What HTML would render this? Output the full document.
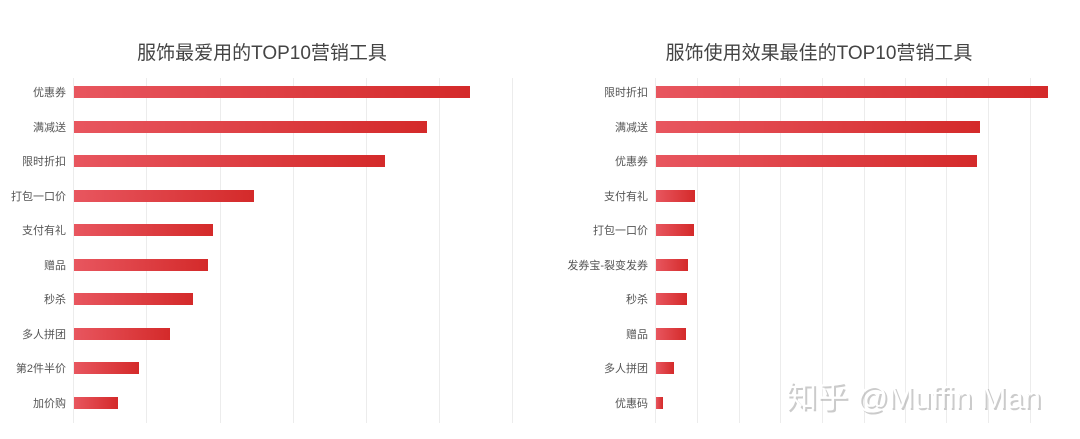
<!DOCTYPE html>
<html><head><meta charset="utf-8"><style>
body{margin:0;background:#fff;}
svg{display:block;font-family:"Liberation Sans","Noto Sans CJK SC",sans-serif;}
</style></head><body>
<svg width="1080" height="439" viewBox="0 0 1080 439">
<defs>
<linearGradient id="g" x1="0" x2="1" y1="0" y2="0">
<stop offset="0" stop-color="#e8565f"/><stop offset="1" stop-color="#d42a2a"/>
</linearGradient>
</defs>
<rect width="1080" height="439" fill="#fff"/>
<g stroke="#ececec" stroke-width="1">
<line x1="73.5" y1="78" x2="73.5" y2="423"/><line x1="146.5" y1="78" x2="146.5" y2="423"/><line x1="220.5" y1="78" x2="220.5" y2="423"/><line x1="293.5" y1="78" x2="293.5" y2="423"/><line x1="366.5" y1="78" x2="366.5" y2="423"/><line x1="439.5" y1="78" x2="439.5" y2="423"/><line x1="512.5" y1="78" x2="512.5" y2="423"/>
<line x1="655.5" y1="78" x2="655.5" y2="423"/><line x1="697.5" y1="78" x2="697.5" y2="423"/><line x1="739.5" y1="78" x2="739.5" y2="423"/><line x1="780.5" y1="78" x2="780.5" y2="423"/><line x1="822.5" y1="78" x2="822.5" y2="423"/><line x1="864.5" y1="78" x2="864.5" y2="423"/><line x1="905.5" y1="78" x2="905.5" y2="423"/><line x1="946.5" y1="78" x2="946.5" y2="423"/><line x1="988.5" y1="78" x2="988.5" y2="423"/><line x1="1030.5" y1="78" x2="1030.5" y2="423"/>
</g>
<text x="262" y="59" font-size="19" fill="#444" text-anchor="middle">服饰最爱用的TOP10营销工具</text>
<text x="819" y="59" font-size="19" fill="#444" text-anchor="middle">服饰使用效果最佳的TOP10营销工具</text>
<g fill="url(#g)">
<rect x="74" y="86" width="396" height="12"/>
<rect x="74" y="121" width="353" height="12"/>
<rect x="74" y="155" width="311" height="12"/>
<rect x="74" y="190" width="180" height="12"/>
<rect x="74" y="224" width="139" height="12"/>
<rect x="74" y="259" width="134" height="12"/>
<rect x="74" y="293" width="119" height="12"/>
<rect x="74" y="328" width="96" height="12"/>
<rect x="74" y="362" width="65" height="12"/>
<rect x="74" y="397" width="44" height="12"/>
<rect x="656" y="86" width="392" height="12"/>
<rect x="656" y="121" width="324" height="12"/>
<rect x="656" y="155" width="321" height="12"/>
<rect x="656" y="190" width="39" height="12"/>
<rect x="656" y="224" width="38" height="12"/>
<rect x="656" y="259" width="32" height="12"/>
<rect x="656" y="293" width="31" height="12"/>
<rect x="656" y="328" width="30" height="12"/>
<rect x="656" y="362" width="18" height="12"/>
<rect x="656" y="397" width="7" height="12"/>
</g>
<g font-size="11" fill="#555" text-anchor="end">
<text x="66" y="96">优惠券</text><text x="66" y="131">满减送</text><text x="66" y="165">限时折扣</text><text x="66" y="200">打包一口价</text><text x="66" y="234">支付有礼</text><text x="66" y="269">赠品</text><text x="66" y="303">秒杀</text><text x="66" y="338">多人拼团</text><text x="66" y="372">第2件半价</text><text x="66" y="407">加价购</text>
<text x="648" y="96">限时折扣</text><text x="648" y="131">满减送</text><text x="648" y="165">优惠券</text><text x="648" y="200">支付有礼</text><text x="648" y="234">打包一口价</text><text x="648" y="269">发券宝-裂变发券</text><text x="648" y="303">秒杀</text><text x="648" y="338">赠品</text><text x="648" y="372">多人拼团</text><text x="648" y="407">优惠码</text>
</g>
<text x="788" y="410" font-size="31" fill="#aaa" opacity="0.6">知乎 @Muffin Man</text>
<text x="786" y="408" font-size="31" fill="#fff">知乎 @Muffin Man</text>
</svg>
</body></html>
